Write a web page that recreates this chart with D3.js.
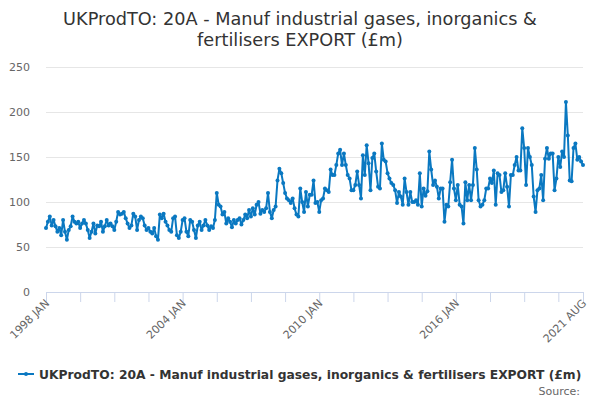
<!DOCTYPE html>
<html>
<head>
<meta charset="utf-8">
<script src="https://cdn.jsdelivr.net/npm/d3@7"></script>
<style>
  body { margin: 0; background: #fff; }
  svg { font-family: "DejaVu Sans", Verdana, sans-serif; }
</style>
</head>
<body>
<div id="chart"></div>
<script>
// monthly values, 1998 JAN .. 2021 AUG (£m)
const values1998to2002 = [71,78,84,74,80,73,67,71,63,80,67,58,69,73,84,78,76,78,71,76,80,76,69,60,67,76,65,74,73,78,67,73,80,74,76,73,69,78,89,86,87,89,82,76,71,74,87,84,69,80,84,82,74,69,71,67,65,71,62,58];
const values2003to2008 = [86,82,87,78,74,69,67,82,84,63,60,67,80,82,67,62,80,78,69,60,74,78,69,74,80,74,69,73,71,80,110,97,95,86,89,76,82,78,72,80,76,80,82,75,80,86,82,91,84,93,86,97,100,87,91,89,93,110,89,82,91,95,124,137,132,121,110,104,102];
const values2008to2014 = [99,104,93,86,84,115,100,89,111,95,108,108,124,99,100,89,102,104,115,113,111,136,130,130,141,154,158,141,154,141,130,126,113,113,119,134,119,104,152,130,163,143,113,149,154,134,117,115,165,147,145,132,126,121,119,113,99,111,106,97,126,111,97,111,100,100,102,97];
const values2014to2021 = [132,95,115,107,112,156,136,119,124,117,104,115,115,78,97,95,122,147,115,102,119,97,95,76,122,102,119,102,119,160,136,102,95,97,102,115,115,126,121,135,97,132,130,111,113,132,117,95,130,130,141,150,135,135,182,160,119,160,150,141,106,89,113,115,130,102,148,160,148,154,154,113,126,150,139,156,150,211,174,124,123,160,165,147,150,145,141];
const values = values1998to2002.concat(values2003to2008, values2008to2014, values2014to2021);

const tickIndex = [0,18,36,54,72,90,108,126,144,162,180,198,216,234,252,270,283];
const labelIndex = [0,72,144,216,283];
const labelText = ["1998 JAN","2004 JAN","2010 JAN","2016 JAN","2021 AUG"];
const yTicks = [0,50,100,150,200,250];
const seriesName = "UKProdTO: 20A - Manuf industrial gases, inorganics & fertilisers EXPORT (£m)";
const titleLines = ["UKProdTO: 20A - Manuf industrial gases, inorganics &", "fertilisers EXPORT (£m)"];

const W = 600, H = 400;
const margin = {top: 67, right: 17, bottom: 108, left: 46};
const color = "#0a78c1";

const svg = d3.select("#chart").append("svg")
    .attr("width", W)
    .attr("height", H);

const x = d3.scaleLinear()
    .domain([0, values.length - 1])
    .range([margin.left, W - margin.right]);

const y = d3.scaleLinear()
    .domain([0, 250])
    .range([H - margin.bottom, margin.top]);

// title
svg.append("text")
    .attr("x", W / 2)
    .attr("y", 25)
    .attr("text-anchor", "middle")
    .style("font-size", "17.7px")
    .style("fill", "#333")
  .selectAll("tspan")
  .data(titleLines)
  .enter().append("tspan")
    .attr("x", W / 2)
    .attr("dy", (d, i) => i ? 21 : 0)
    .text(d => d);

// grid + y labels
const yAxis = svg.append("g")
    .attr("transform", `translate(${margin.left},0)`)
    .call(d3.axisLeft(y).tickValues(yTicks).tickSize(-(W - margin.left - margin.right)).tickPadding(16));
yAxis.select(".domain").remove();
yAxis.selectAll(".tick line").attr("stroke", "#e6e6e6");
yAxis.selectAll(".tick text")
    .style("font-size", "11px")
    .style("fill", "#666")
    .style("font-family", "DejaVu Sans, sans-serif");

// x axis
const xAxis = svg.append("g")
    .attr("transform", `translate(0,${y(0)})`)
    .call(d3.axisBottom(x).tickValues(tickIndex).tickSize(10).tickFormat(""));
xAxis.select(".domain").attr("stroke", "#ccd6eb");
xAxis.selectAll(".tick line").attr("stroke", "#ccd6eb");

svg.append("g")
  .selectAll("text")
  .data(labelIndex)
  .enter().append("text")
    .attr("transform", d => `translate(${x(d) + 4},${y(0) + 12}) rotate(-45)`)
    .attr("text-anchor", "end")
    .style("font-size", "11px")
    .style("fill", "#666")
    .text((d, i) => labelText[i]);

// series
const line = d3.line()
    .x((d, i) => x(i))
    .y(d => y(d));

svg.append("path")
    .datum(values)
    .attr("d", line)
    .attr("fill", "none")
    .attr("stroke", color)
    .attr("stroke-width", 2)
    .attr("stroke-linejoin", "round");

svg.append("g")
  .selectAll("circle")
  .data(values)
  .enter().append("circle")
    .attr("cx", (d, i) => x(i))
    .attr("cy", d => y(d))
    .attr("r", 2)
    .attr("fill", color);

// legend
const legend = svg.append("g").attr("transform", "translate(18,374)");
legend.append("line")
    .attr("x1", 0).attr("x2", 16)
    .attr("stroke", color)
    .attr("stroke-width", 2);
legend.append("circle")
    .attr("cx", 8).attr("r", 2)
    .attr("fill", color);
legend.append("text")
    .attr("x", 21)
    .attr("y", 5)
    .style("font-size", "12.3px")
    .style("font-weight", "bold")
    .style("fill", "#333")
    .text(seriesName);

svg.append("text")
    .attr("x", 580)
    .attr("y", 395)
    .attr("text-anchor", "end")
    .style("font-size", "11px")
    .style("fill", "#666")
    .text("Source:");
</script>
</body>
</html>
